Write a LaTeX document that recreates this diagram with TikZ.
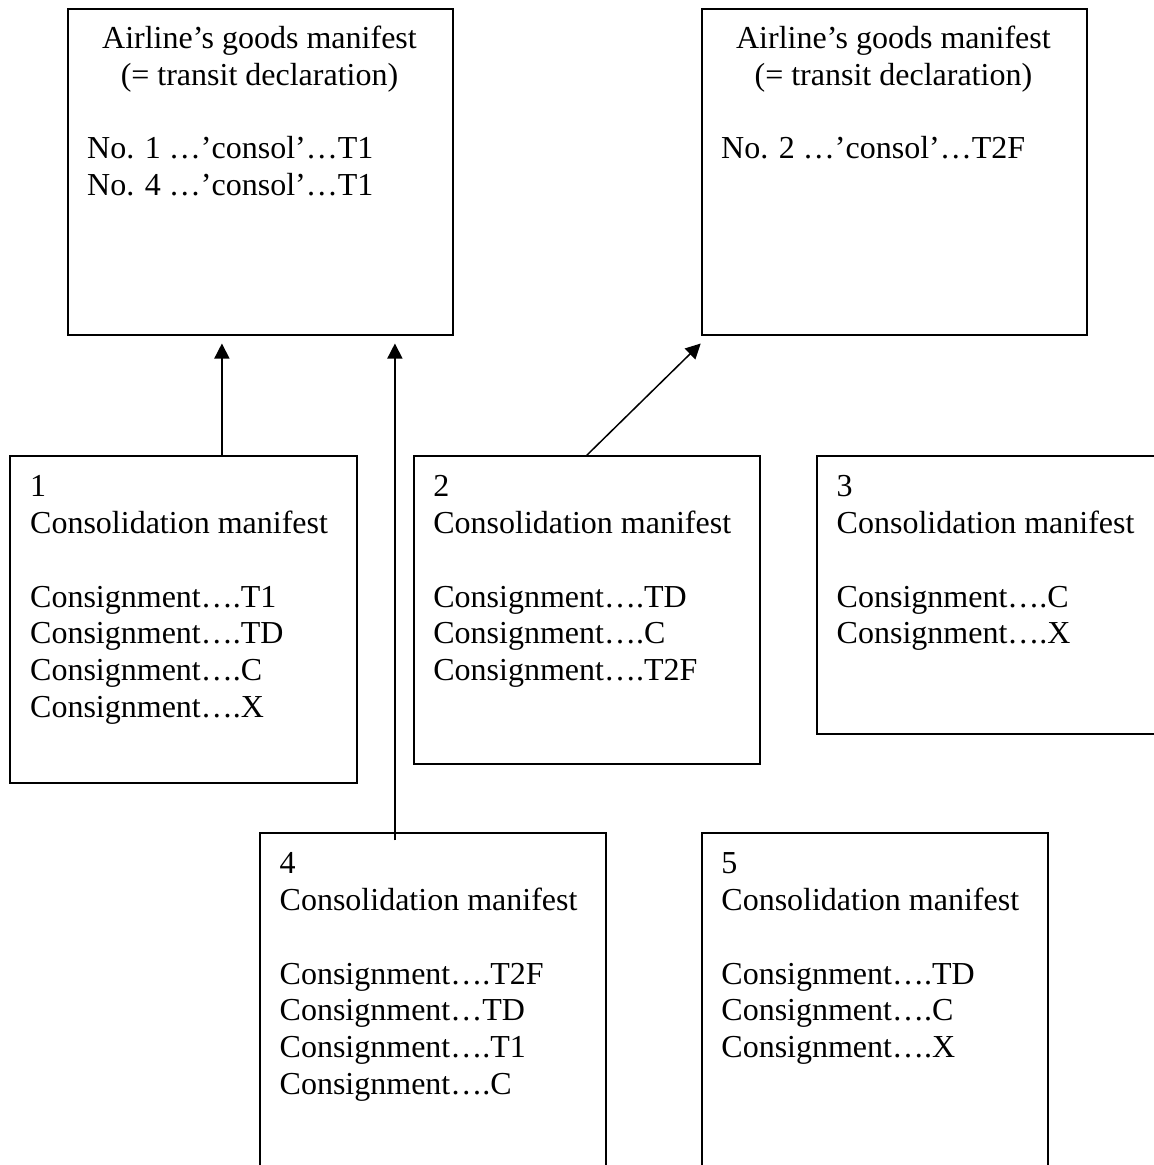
\documentclass[tikz,border=0pt]{standalone}
\usepackage{fontspec}
\setmainfont{Liberation Serif}
\usetikzlibrary{arrows.meta}
\begin{document}
\begin{tikzpicture}[x=1pt,y=-1pt,
  boxnode/.style={draw, line width=1.8pt, rectangle, inner sep=0pt, anchor=north west},
  txt/.style={inner sep=0pt, font=\fontsize{32}{36.8}\selectfont},
  arr/.style={-{Triangle[length=15pt,width=15pt]}, line width=1.5pt}]
\useasboundingbox (0,0) rectangle (1154,1165);
\clip (0,0) rectangle (1154,1165);
% boxes
\node[boxnode, minimum width=385pt, minimum height=326pt] (A) at (67,8) {};
\node[boxnode, minimum width=385.3pt, minimum height=326pt] (B) at (700.7,8) {};
\node[boxnode, minimum width=346.4pt, minimum height=327pt] (b1) at (9.3,455.3) {};
\node[boxnode, minimum width=346.3pt, minimum height=307.4pt] (b2) at (412.7,455.3) {};
\node[boxnode, minimum width=370pt, minimum height=277.4pt] (b3) at (816,455.3) {};
\node[boxnode, minimum width=346pt, minimum height=380pt] (b4) at (259,832.3) {};
\node[boxnode, minimum width=346pt, minimum height=380pt] (b5) at (700.7,832.3) {};
% texts
\node[txt, anchor=base] (At) at (259.5,48.3) {\begin{tabular}[t]{@{}c@{}}Airline’s goods manifest\\(= transit declaration)\end{tabular}};
\node[txt, anchor=base west] (Al) at (87,158.7) {\begin{tabular}[t]{@{}l@{}}No. 1 …’consol’…T1\\No. 4 …’consol’…T1\end{tabular}};
\node[txt, anchor=base] (Bt) at (893.4,48.3) {\begin{tabular}[t]{@{}c@{}}Airline’s goods manifest\\(= transit declaration)\end{tabular}};
\node[txt, anchor=base west] (Bl) at (721,158.7) {\begin{tabular}[t]{@{}l@{}}No. 2 …’consol’…T2F\end{tabular}};
\node[txt, anchor=base west] (t1) at (30,496.7) {\begin{tabular}[t]{@{}l@{}}1\\Consolidation manifest\\ \\Consignment….T1\\Consignment….TD\\Consignment….C\\Consignment….X\end{tabular}};
\node[txt, anchor=base west] (t2) at (433.2,496.7) {\begin{tabular}[t]{@{}l@{}}2\\Consolidation manifest\\ \\Consignment….TD\\Consignment….C\\Consignment….T2F\end{tabular}};
\node[txt, anchor=base west] (t3) at (836.5,496.7) {\begin{tabular}[t]{@{}l@{}}3\\Consolidation manifest\\ \\Consignment….C\\Consignment….X\end{tabular}};
\node[txt, anchor=base west] (t4) at (279.5,873.7) {\begin{tabular}[t]{@{}l@{}}4\\Consolidation manifest\\ \\Consignment….T2F\\Consignment…TD\\Consignment….T1\\Consignment….C\end{tabular}};
\node[txt, anchor=base west] (t5) at (721.2,873.7) {\begin{tabular}[t]{@{}l@{}}5\\Consolidation manifest\\ \\Consignment….TD\\Consignment….C\\Consignment….X\end{tabular}};
% arrows
\draw[arr] ([xshift=38.5pt]b1.north) -- ([xshift=-38.5pt,yshift=-7.7pt]A.south);
\draw[arr] ([xshift=-38pt,yshift=-8pt]b4.north) -- ([xshift=134.5pt,yshift=-7.7pt]A.south);
\draw[arr] (b2.north) -- ([yshift=-7.7pt]B.south west);
\end{tikzpicture}
\end{document}
